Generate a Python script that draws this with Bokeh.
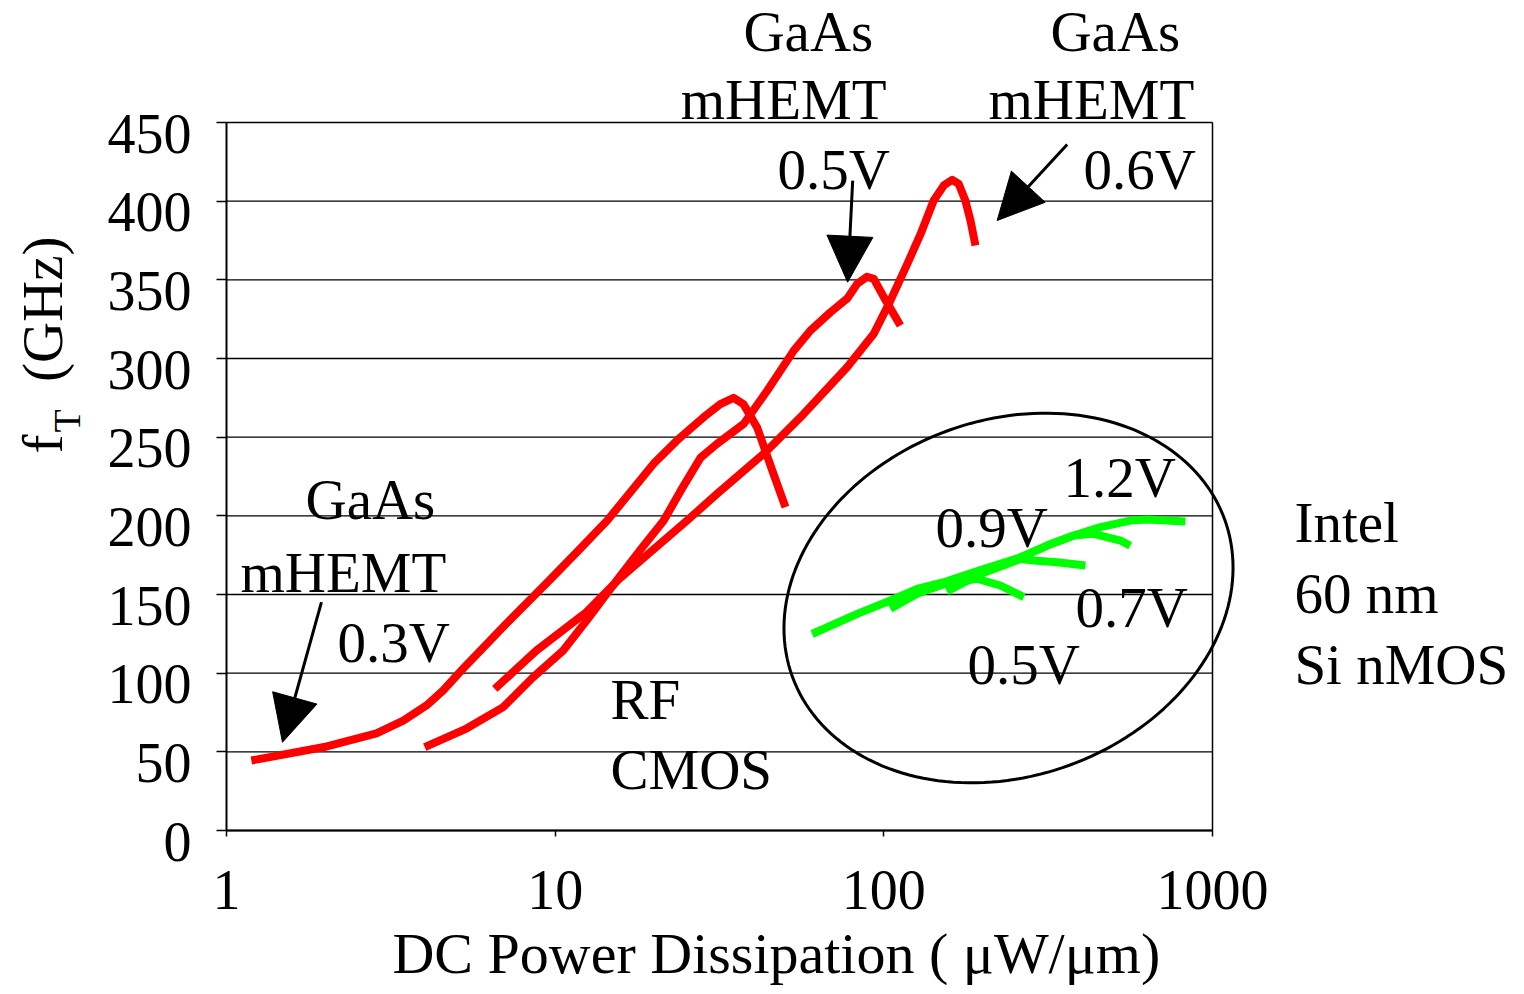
import numpy as np
from bokeh.plotting import figure
from bokeh.models import (FixedTicker, NumeralTickFormatter, Label, Arrow, NormalHead,
                          Range1d, PolyAnnotation, LogAxis, LinearAxis, CustomJSTickFormatter)
from bokeh.embed import file_html
from bokeh.resources import INLINE

# ---------------- data ----------------
x_ticks = [1, 10, 100, 1000]
y_ticks = [0, 50, 100, 150, 200, 250, 300, 350, 400, 450]

# GaAs mHEMT 0.3 V
hemt03_x = [1.19, 2.02, 2.86, 3.45, 4.06, 4.56, 5.25, 7.11, 9.6, 11.9, 14.4, 19.9, 23.5,
            28.3, 31.8, 34.9, 37.4, 41.2, 46.1, 50.2]
hemt03_y = [44.5, 53.4, 61.8, 69.9, 79.5, 89, 103, 131.6, 159, 179, 197, 233, 248,
            262.7, 271, 275, 271, 256, 227, 205.5]

# GaAs mHEMT 0.5 V
hemt05_x = [4.01, 5.37, 6.95, 8.57, 10.58, 12.7, 15.4, 18.2, 21.4, 24.1, 27.7, 31.1, 37.5,
            44.2, 53.2, 59.8, 68.8, 77.3, 83, 88.9, 93.2, 100, 112.3]
hemt05_y = [53, 64.8, 78.4, 97.4, 114.4, 135.6, 159, 178.6, 197, 216, 237, 245.8, 258.5,
            279.7, 305, 317.8, 329.4, 338, 347.5, 352, 350.6, 339, 321]

# GaAs mHEMT 0.6 V
hemt06_x = [6.55, 8.77, 12.45, 15.5, 19.5, 25.2, 31.1, 43.1, 55.8, 77.3, 93.2, 104.8, 117.8,
            129.3, 141.8, 152.2, 161.5, 169, 177, 183.5, 190]
hemt06_y = [90, 114.4, 138.8, 159, 177, 197, 214, 239.4, 262.7, 294.5, 315.7, 336.9, 360,
            379, 400.4, 410, 413.6, 411, 400.4, 387.7, 371.8]

# Intel 60 nm Si nMOS
nmos12_x = [60.5, 83, 104.7, 126.3, 152.2, 196.8, 260.4, 314, 378.4, 456, 562.4, 632.6, 827.3]
nmos12_y = [124.9, 137.7, 146.2, 153.6, 157.8, 165.6, 173.6, 181.1, 187.5, 192.8, 197, 197.7, 196.4]
nmos09_x = [260.4, 314, 378.4, 435, 524.8, 562]
nmos09_y = [173.6, 181.1, 187.5, 188.6, 184.3, 181]
nmos07_x = [155.5, 196.8, 260.4, 285.8, 336.6, 410.5]
nmos07_y = [152, 163, 172.5, 171.6, 170.5, 168.4]
nmos05_x = [104.7, 126.3, 152.2, 192, 226, 266.6]
nmos05_y = [141, 150.5, 156.5, 160, 155.7, 148.3]

FONT = "Liberation Serif"
RED = "#FF0000"
GREEN = "#00FF00"

# ---------------- geometry of the plot area inside the canvas ----------------
W, H = 1524, 994
PL, PR, PT, PB = 226, 1212, 122, 830          # plot-area edges in canvas px
xmin, xmax = x_ticks[0], x_ticks[-1]
ymin, ymax = y_ticks[0], y_ticks[-1]
px_per_dec = (PR - PL) / np.log10(xmax / xmin)
px_per_unit = (PB - PT) / (ymax - ymin)
x_lo = xmin * 10 ** (-PL / px_per_dec)
x_hi = xmax * 10 ** ((W - PR) / px_per_dec)
y_lo = ymin - (H - PB) / px_per_unit
y_hi = ymax + PT / px_per_unit

p = figure(width=W, height=H, x_axis_type="log", title=None,
           x_axis_location=None, y_axis_location=None,
           x_range=Range1d(x_lo, x_hi), y_range=Range1d(y_lo, y_hi),
           output_backend="svg", toolbar_location=None,
           min_border=0, min_border_left=0, min_border_right=0,
           min_border_top=0, min_border_bottom=0)
p.background_fill_color = "white"
p.border_fill_color = "white"
p.outline_line_color = None
p.xgrid.visible = False
p.ygrid.visible = False

# horizontal grid lines and right border of the plot area
n = len(y_ticks)
p.segment(x0=[xmin] * n, y0=y_ticks, x1=[xmax] * n, y1=y_ticks,
          line_color="black", line_width=1.3)
p.segment(x0=[xmax], y0=[ymin], x1=[xmax], y1=[ymax], line_color="black", line_width=1.5)

# x axis
xax = LogAxis(fixed_location=ymin, bounds=(xmin, xmax), ticker=FixedTicker(ticks=x_ticks),
              formatter=NumeralTickFormatter(format="0"))
xax.minor_tick_line_color = None
xax.major_tick_in = 0
xax.major_tick_out = 6
xax.axis_line_width = 2
xax.major_tick_line_width = 1.5
xax.major_label_text_font = FONT
xax.major_label_text_font_size = "56px"
xax.major_label_text_color = "black"
xax.major_label_standoff = 34
p.add_layout(xax, "below")

# y axis: line + tick marks
yax = LinearAxis(fixed_location=xmin, bounds=(ymin, ymax), ticker=FixedTicker(ticks=y_ticks))
yax.minor_tick_line_color = None
yax.major_tick_in = 0
yax.major_tick_out = 10
yax.axis_line_width = 2
yax.major_tick_line_width = 1.5
yax.major_label_text_color = None
p.add_layout(yax, "left")

# y tick labels sit a little below their ticks in the original
label_shift = 7
ylab = LinearAxis(fixed_location=xmin, ticker=FixedTicker(ticks=[v - label_shift for v in y_ticks]),
                  formatter=CustomJSTickFormatter(args=dict(shift=label_shift),
                                                  code="return String(Math.round(tick + shift));"))
ylab.axis_line_color = None
ylab.major_tick_line_color = None
ylab.minor_tick_line_color = None
ylab.major_tick_in = 0
ylab.major_tick_out = 0
ylab.major_label_standoff = 35
ylab.major_label_text_font = FONT
ylab.major_label_text_font_size = "56px"
ylab.major_label_text_color = "black"
p.add_layout(ylab, "left")

# curves
for xs, ys in [(hemt03_x, hemt03_y), (hemt05_x, hemt05_y), (hemt06_x, hemt06_y)]:
    p.line(xs, ys, line_color=RED, line_width=8, line_join="round")
for xs, ys in [(nmos12_x, nmos12_y), (nmos09_x, nmos09_y), (nmos07_x, nmos07_y), (nmos05_x, nmos05_y)]:
    p.line(xs, ys, line_color=GREEN, line_width=8, line_join="round")

# ellipse around the Intel group (screen units, y measured upward)
ell_cx, ell_cy, ell_a, ell_b, ell_theta = 1008, H - 597.5, 230, 178, np.deg2rad(20)
t = np.linspace(0, 2 * np.pi, 181)
ex = ell_cx + ell_a * np.cos(t) * np.cos(ell_theta) - ell_b * np.sin(t) * np.sin(ell_theta)
ey = ell_cy + ell_a * np.cos(t) * np.sin(ell_theta) + ell_b * np.sin(t) * np.cos(ell_theta)
p.add_layout(PolyAnnotation(xs=list(ex), ys=list(ey), xs_units="screen", ys_units="screen",
                            fill_color=None, fill_alpha=0, line_color="black",
                            line_alpha=1.0, line_width=3))

# arrows
for xs_, ys_, xe_, ye_ in [(1.945, 145.1, 1.48, 56.1),
                           (80.4, 413.1, 77.6, 348.5),
                           (361.2, 436.0, 221.2, 387.7)]:
    p.add_layout(Arrow(end=NormalHead(size=46, fill_color="black", line_color="black"),
                       x_start=xs_, y_start=ys_, x_end=xe_, y_end=ye_,
                       line_color="black", line_width=3))

BASE_FIX = 23  # px: lifts Bokeh's text box so its baseline sits on the anchor

def lab(x, y, text, size="57px", align="left"):
    p.add_layout(Label(x=x, y=y, text=text, text_font=FONT, text_font_size=size,
                       text_color="black", text_align=align, text_baseline="alphabetic",
                       y_offset=BASE_FIX))

def vlab(x, y, text, size="57px", fix=BASE_FIX):
    p.add_layout(Label(x=x, y=y, text=text, text_font=FONT, text_font_size=size,
                       text_color="black", text_align="left", text_baseline="alphabetic",
                       angle=np.pi / 2, x_offset=-fix))

# annotations
lab(1.739, 195.8, "GaAs")
lab(1.103, 149.4, "mHEMT")
lab(2.177, 104.9, "0.3V")
lab(37.4, 493.0, "GaAs")
lab(24.1, 450.0, "mHEMT")
lab(47.5, 405.5, "0.5V")
lab(321.3, 493.0, "GaAs")
lab(208.1, 450.0, "mHEMT")
lab(404.8, 405.5, "0.6V")
lab(14.73, 68.6, "RF")
lab(14.73, 24.2, "CMOS")
lab(351.9, 209.7, "1.2V")
lab(143.6, 178.0, "0.9V")
lab(382.8, 127.1, "0.7V")
lab(179.7, 90.9, "0.5V")
lab(1775, 181.1, "Intel")
lab(1775, 136.0, "60 nm")
lab(1775, 90.9, "Si nMOS")

# axis titles
lab(47.1, -92.8, "DC Power Dissipation ( μW/μm)", size="58px", align="center")
vlab(0.3238, 239.6, "f")
vlab(0.3646, 253.0, "T", size="38px", fix=15)
vlab(0.3238, 285.0, "(GHz)")

open("out.html", "w").write(file_html(p, INLINE))
